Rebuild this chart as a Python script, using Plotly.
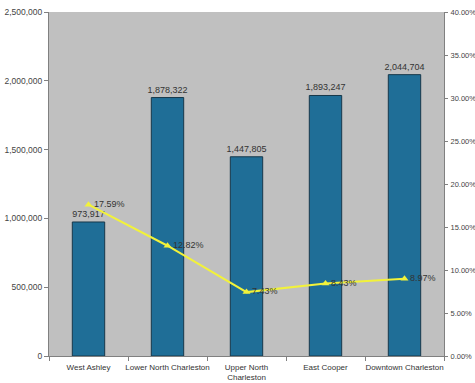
import plotly.graph_objects as go

categories = ["West Ashley", "Lower North Charleston", "Upper North<br>Charleston", "East Cooper", "Downtown Charleston"]
values = [973917, 1878322, 1447805, 1893247, 2044704]
pcts = [17.59, 12.82, 7.43, 8.43, 8.97]

bar_text = [f"{v:,}" for v in values]
pct_text = [f"{p:.2f}%" for p in pcts]

ff = "Liberation Sans, Arial, sans-serif"

fig = go.Figure()
fig.add_trace(go.Bar(
    x=categories, y=values, text=bar_text, textposition="outside",
    textfont=dict(family=ff, size=9, color="#333333"), constraintext="none",
    marker=dict(color="#1f6e97", line=dict(color="#17384a", width=1)),
    cliponaxis=False, showlegend=False,
))
fig.add_trace(go.Scatter(
    x=categories, y=[p / 100 for p in pcts], yaxis="y2",
    mode="lines+markers+text", text=pct_text, textposition="middle right",
    textfont=dict(family=ff, size=9, color="#333333"),
    line=dict(color="#f2f23a", width=2),
    marker=dict(symbol="triangle-up", size=7, color="#f2f23a"),
    cliponaxis=False, showlegend=False,
))

fig.update_layout(
    width=475, height=383,
    margin=dict(l=49, r=31, t=12, b=27),
    paper_bgcolor="white", plot_bgcolor="#c0c0c0",
    font=dict(family=ff, size=9, color="#333333"), bargap=0.59,
    xaxis=dict(showline=True, linecolor="#808080", ticks="outside", tickson="boundaries",
               ticklen=4, tickcolor="#808080", tickfont=dict(size=8, color="#333333"),
               tickangle=0, automargin=False, showgrid=False, ticklabelstandoff=3),
    yaxis=dict(range=[0, 2500000], dtick=500000, tickformat=",d", showline=True,
               linecolor="#808080", ticks="outside", ticklen=4, tickcolor="#808080",
               showgrid=False, zeroline=False, automargin=False,
               tickfont=dict(size=8.5, color="#444444")),
    yaxis2=dict(range=[0, 0.4], dtick=0.05, tickformat=".2%", overlaying="y", side="right",
                showline=True, linecolor="#808080", ticks="outside", ticklen=3,
                tickcolor="#808080", showgrid=False, zeroline=False, automargin=False,
                ticklabelstandoff=1,
                tickfont=dict(size=7.5, color="#444444")),
)

fig.write_html("out.html")
